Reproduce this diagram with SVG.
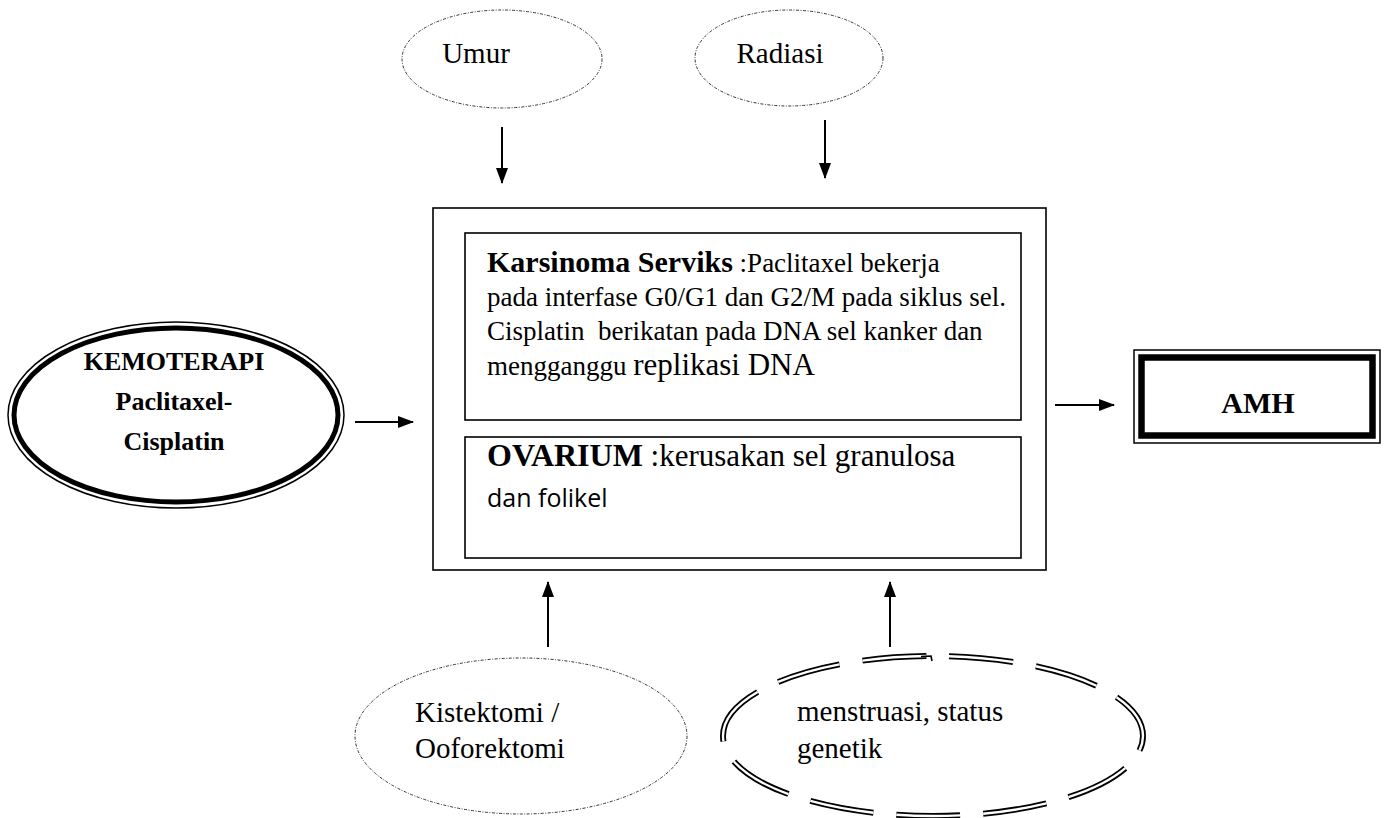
<svg xmlns="http://www.w3.org/2000/svg" width="1386" height="818" viewBox="0 0 1386 818">
<style>
  .serif{font-family:"Liberation Serif","Times New Roman",serif;fill:#000}
  .sans{font-family:"Open Sans","Liberation Sans",sans-serif;fill:#000}
  .b{font-weight:bold}
  .dotted{fill:none;stroke:#333;stroke-width:1;stroke-dasharray:3 1.5 1 1.5}
  .box{fill:none;stroke:#000;stroke-width:1.6}
  .conn{stroke:#000;stroke-width:2;fill:none}
  .dd{fill:none;stroke-dasharray:64 23;stroke-dashoffset:49}
</style>
<defs>
  <marker id="ah" markerUnits="userSpaceOnUse" markerWidth="16" markerHeight="16" refX="15" refY="8" orient="auto">
    <path d="M0,2 L16,8 L0,14 Z" fill="#000"/>
  </marker>
</defs>
<rect width="1386" height="818" fill="#fff"/>

<g id="umur">
  <ellipse class="dotted" cx="502" cy="59" rx="100" ry="49"/>
  <text class="serif" x="476" y="63" font-size="29" text-anchor="middle">Umur</text>
</g>
<g id="radiasi">
  <ellipse class="dotted" cx="789" cy="58" rx="94" ry="48"/>
  <text class="serif" x="780" y="63" font-size="29" text-anchor="middle">Radiasi</text>
</g>

<g id="kemoterapi">
  <ellipse cx="176" cy="415" rx="168" ry="93" fill="none" stroke="#000" stroke-width="1.5"/>
  <ellipse cx="176" cy="415" rx="162" ry="87" fill="none" stroke="#000" stroke-width="5"/>
  <text class="serif b" x="174" y="370" font-size="26" text-anchor="middle">KEMOTERAPI</text>
  <text class="serif b" x="174" y="410" font-size="26" text-anchor="middle">Paclitaxel-</text>
  <text class="serif b" x="174" y="450" font-size="26" text-anchor="middle">Cisplatin</text>
</g>

<g id="main">
  <rect class="box" x="433" y="208" width="613" height="362"/>
</g>
<g id="karsinoma">
  <rect class="box" x="465" y="233" width="556" height="187"/>
  <text class="serif" x="487" y="272"><tspan class="b" font-size="30">Karsinoma Serviks</tspan><tspan font-size="27"> :Paclitaxel bekerja</tspan></text>
  <text class="serif" x="487" y="306" font-size="27">pada interfase G0/G1 dan G2/M pada siklus sel.</text>
  <text class="serif" x="487" y="340" font-size="27" xml:space="preserve">Cisplatin  berikatan pada DNA sel kanker dan</text>
  <text class="serif" x="487" y="375"><tspan font-size="27">mengganggu </tspan><tspan font-size="31">replikasi DNA</tspan></text>
</g>
<g id="ovarium">
  <rect class="box" x="465" y="437" width="556" height="121"/>
  <text class="serif" x="487" y="466"><tspan class="b" font-size="32">OVARIUM</tspan><tspan font-size="31"> :kerusakan sel granulosa</tspan></text>
  <text class="sans" x="487" y="507" font-size="25">dan folikel</text>
</g>

<g id="amh">
  <rect x="1134" y="350" width="246" height="93" fill="none" stroke="#000" stroke-width="1.5"/>
  <rect x="1141.5" y="357.5" width="231" height="78" fill="none" stroke="#000" stroke-width="6.5"/>
  <text class="serif b" x="1258" y="413" font-size="30" text-anchor="middle">AMH</text>
</g>

<g id="kistektomi">
  <ellipse class="dotted" cx="521" cy="736" rx="166" ry="78"/>
  <text class="serif" x="415" y="722" font-size="29">Kistektomi /</text>
  <text class="serif" x="415" y="758" font-size="29">Ooforektomi</text>
</g>

<g id="menstruasi">
  <ellipse class="dd" cx="933" cy="736" rx="210" ry="80" stroke="#000" stroke-width="6"/>
  <ellipse class="dd" cx="933" cy="736" rx="210" ry="80" stroke="#fff" stroke-width="2.4"/>
  <path d="M921,656.5 L931,656 L932,661" fill="none" stroke="#000" stroke-width="1.6"/>
  <text class="serif" x="797" y="721" font-size="29">menstruasi, status</text>
  <text class="serif" x="797" y="758" font-size="29">genetik</text>
</g>

<g id="connectors">
  <line class="conn" x1="502" y1="127" x2="502" y2="183" marker-end="url(#ah)"/>
  <line class="conn" x1="825" y1="120" x2="825" y2="178" marker-end="url(#ah)"/>
  <line class="conn" x1="355" y1="422" x2="413" y2="422" marker-end="url(#ah)"/>
  <line class="conn" x1="1055" y1="405" x2="1114" y2="405" marker-end="url(#ah)"/>
  <line class="conn" x1="548" y1="647" x2="548" y2="582" marker-end="url(#ah)"/>
  <line class="conn" x1="890" y1="647" x2="890" y2="582" marker-end="url(#ah)"/>
</g>
</svg>
